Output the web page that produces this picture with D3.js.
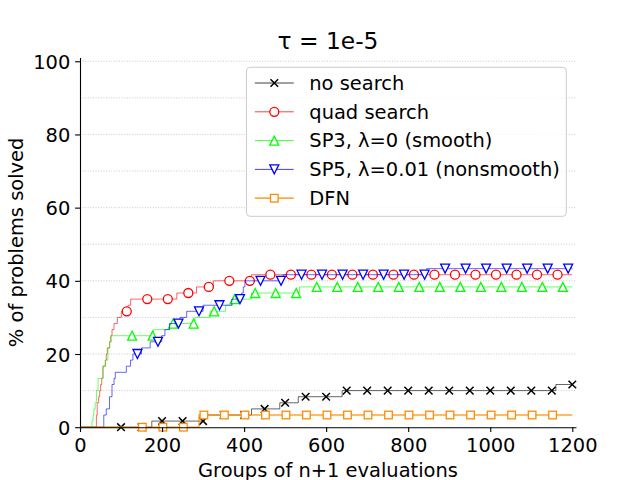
<!DOCTYPE html>
<html>
<head>
<meta charset="utf-8">
<script src="https://cdn.jsdelivr.net/npm/d3@7/dist/d3.min.js"></script>
<style>
  body { margin: 0; background: #fff; }
  svg { display: block; font-family: "DejaVu Sans", sans-serif; }
</style>
</head>
<body>
<div id="chart"></div>
<script>
// data profile, tau = 1e-5 (step breakpoints)
var seriesNames = ["no search", "quad search", "SP3, \u03bb=0 (smooth)", "SP5, \u03bb=0.01 (nonsmooth)", "DFN"];

var noSearchX = [0, 175, 303, 418, 487, 532, 639, 1160, 1200];
var noSearchY = [0, 1.67, 3.33, 5, 6.67, 8.33, 10, 11.67, 11.67];

var quadX = [0, 40, 42, 45.5, 48, 50.3, 53, 56, 61.7, 64, 66.6, 72.3, 75, 78, 82.9, 91, 100.8, 117, 123.5, 236, 284, 325, 418, 1200];
var quadY = [0, 3.33, 6.67, 8.33, 10, 11.67, 13.33, 16.67, 18.33, 20, 21.67, 23.33, 25, 26.67, 28.33, 30, 31.67, 33.33, 35, 36.67, 38.33, 40, 41.67, 41.67];

var sp3X = [0, 29, 32, 34, 37, 40, 44, 56, 62, 68, 72, 76, 179, 219, 280, 317, 355, 372, 418, 535, 1200];
var sp3Y = [0, 1.67, 3.33, 5, 6.67, 10, 13.33, 16.67, 18.33, 21.67, 23.33, 25, 26.67, 28.33, 30, 31.67, 33.33, 35, 36.67, 38.33, 38.33];

var sp5X = [0, 58, 64, 72, 78, 83, 86, 113, 123, 129, 150, 171, 199, 207, 218, 244, 260, 300, 370, 394, 398, 402, 495, 845, 1200];
var sp5Y = [0, 3.33, 5, 8.33, 11.67, 13.33, 15, 16.67, 18.33, 20, 21.67, 23.33, 25, 26.67, 28.33, 30, 31.67, 33.33, 35, 36.67, 38.33, 40, 41.67, 43.33, 43.33];

var dfnX = [0, 290, 1200];
var dfnY = [0, 3.33, 3.33];

var xTicks = [0, 200, 400, 600, 800, 1000, 1200];
var yTicks = [0, 20, 40, 60, 80, 100];
var yGrid = [10, 20, 30, 40, 50, 60, 70, 80, 90, 100];

// style per series: colour, marker shape, where markers start (every 50)
var styles = [
    { color: "#000000", marker: "x", markStart: 100, width: 1 },
    { color: "#ff0000", marker: "o", markStart: 114, width: 1 },
    { color: "#00ff00", marker: "^", markStart: 127, width: 1 },
    { color: "#0000ff", marker: "v", markStart: 140, width: 1 },
    { color: "#ff8c00", marker: "s", markStart: 152, width: 1.8 }
];
var markStep = 50;

var series = [
    { xs: noSearchX, ys: noSearchY },
    { xs: quadX, ys: quadY },
    { xs: sp3X, ys: sp3Y },
    { xs: sp5X, ys: sp5Y },
    { xs: dfnX, ys: dfnY }
];

var W = 640, H = 480;
var fs = 19.44;
var mLeft = 80, mRight = 576, mTop = 57.6, mBottom = 427.2;

var x = d3.scaleLinear().domain([0, 1209]).range([mLeft, mRight]);
var y = d3.scaleLinear().domain([0, 101]).range([mBottom, mTop]);

var svg = d3.select("#chart")
    .append("svg")
    .attr("width", W)
    .attr("height", H);

// dotted horizontal grid
svg.append("g")
    .selectAll("line")
    .data(yGrid)
    .enter().append("line")
    .attr("x1", mLeft)
    .attr("x2", mRight)
    .attr("y1", function(d) { return y(d); })
    .attr("y2", function(d) { return y(d); })
    .style("stroke", "#bdbdbd")
    .style("stroke-width", 0.8)
    .style("stroke-dasharray", "1,1.6");

function markerPath(g, shape, color, cx, cy) {
    var h = 4.5;
    if (shape == "o") {
        g.append("circle").attr("cx", cx).attr("cy", cy).attr("r", 4.5)
            .style("fill", "#fff").style("stroke", color).style("stroke-width", 1.3);
    } else if (shape == "x") {
        g.append("path")
            .attr("d", "M" + (cx - 3.8) + "," + (cy - 3.8) + "L" + (cx + 3.8) + "," + (cy + 3.8) +
                       "M" + (cx - 3.8) + "," + (cy + 3.8) + "L" + (cx + 3.8) + "," + (cy - 3.8))
            .style("fill", "none").style("stroke", color).style("stroke-width", 1.5);
    } else if (shape == "^") {
        g.append("path")
            .attr("d", "M" + cx + "," + (cy - h) + "L" + (cx - h) + "," + (cy + h) + "L" + (cx + h) + "," + (cy + h) + "Z")
            .style("fill", "#fff").style("stroke", color).style("stroke-width", 1.3);
    } else if (shape == "v") {
        g.append("path")
            .attr("d", "M" + cx + "," + (cy + h) + "L" + (cx - h) + "," + (cy - h) + "L" + (cx + h) + "," + (cy - h) + "Z")
            .style("fill", "#fff").style("stroke", color).style("stroke-width", 1.3);
    } else if (shape == "s") {
        g.append("rect").attr("x", cx - 3.8).attr("y", cy - 3.8).attr("width", 7.6).attr("height", 7.6)
            .style("fill", "#fff").style("stroke", color).style("stroke-width", 1.3);
    }
}

var line = d3.line()
    .x(function(d) { return x(d[0]); })
    .y(function(d) { return y(d[1]); })
    .curve(d3.curveStepAfter);

series.forEach(function(s, i) {
    var st = styles[i];
    var pts = s.xs.map(function(v, k) { return [v, s.ys[k]]; });
    var g = svg.append("g").attr("class", "series");
    g.append("path")
        .datum(pts)
        .attr("d", line)
        .style("fill", "none")
        .style("stroke", st.color)
        .style("stroke-opacity", 0.6)
        .style("stroke-width", st.width);
    // markers sit on the step profile every 50 groups
    for (var mx = st.markStart; mx <= 1200; mx += markStep) {
        var k = d3.bisectRight(s.xs, mx) - 1;
        markerPath(g, st.marker, st.color, x(mx), y(s.ys[k]));
    }
});

// axes: only left and bottom spines
var xAxis = svg.append("g")
    .attr("transform", "translate(0," + mBottom + ")")
    .call(d3.axisBottom(x).tickValues(xTicks).tickFormat(d3.format("d"))
        .tickSize(4.86).tickPadding(4.86).tickSizeOuter(0));
xAxis.selectAll("text").attr("dy", "0.76em");

var yAxis = svg.append("g")
    .attr("transform", "translate(" + mLeft + ",0)")
    .call(d3.axisLeft(y).tickValues(yTicks).tickFormat(d3.format("d"))
        .tickSize(4.86).tickPadding(4.86).tickSizeOuter(0));
yAxis.selectAll("text").attr("dy", "0.36em");

svg.selectAll(".domain, .tick line").style("stroke", "#000").style("stroke-width", 1.1);
svg.selectAll(".tick text")
    .style("font-family", "DejaVu Sans")
    .style("font-size", fs + "px")
    .style("fill", "#000");

svg.append("text")
    .attr("x", (mLeft + mRight) / 2)
    .attr("y", 476.5)
    .style("text-anchor", "middle")
    .style("font-size", fs + "px")
    .text("Groups of n+1 evaluations");

svg.append("text")
    .attr("transform", "translate(23," + ((mTop + mBottom) / 2) + ") rotate(-90)")
    .style("text-anchor", "middle")
    .style("font-size", fs + "px")
    .text("% of problems solved");

svg.append("text")
    .attr("x", (mLeft + mRight) / 2)
    .attr("y", 49)
    .style("text-anchor", "middle")
    .style("font-size", (fs * 1.2) + "px")
    .text("\u03c4 = 1e-5");

// legend, upper right
var lg = svg.append("g");
lg.append("rect")
    .attr("x", 246.5).attr("y", 67.3)
    .attr("width", 319.8).attr("height", 149)
    .attr("rx", 3.5)
    .style("fill", "#fff").style("fill-opacity", 0.8)
    .style("stroke", "#cccccc").style("stroke-width", 1);

seriesNames.forEach(function(name, i) {
    var cy = 83 + i * 28.8;
    var st = styles[i];
    lg.append("line")
        .attr("x1", 254.8).attr("x2", 293.7)
        .attr("y1", cy).attr("y2", cy)
        .style("stroke", st.color)
        .style("stroke-opacity", 0.75)
        .style("stroke-width", st.width);
    markerPath(lg, st.marker, st.color, 274.3, cy);
    lg.append("text")
        .attr("x", 309.3)
        .attr("y", cy + 6.8)
        .style("font-size", fs + "px")
        .text(name);
});
</script>
</body>
</html>
